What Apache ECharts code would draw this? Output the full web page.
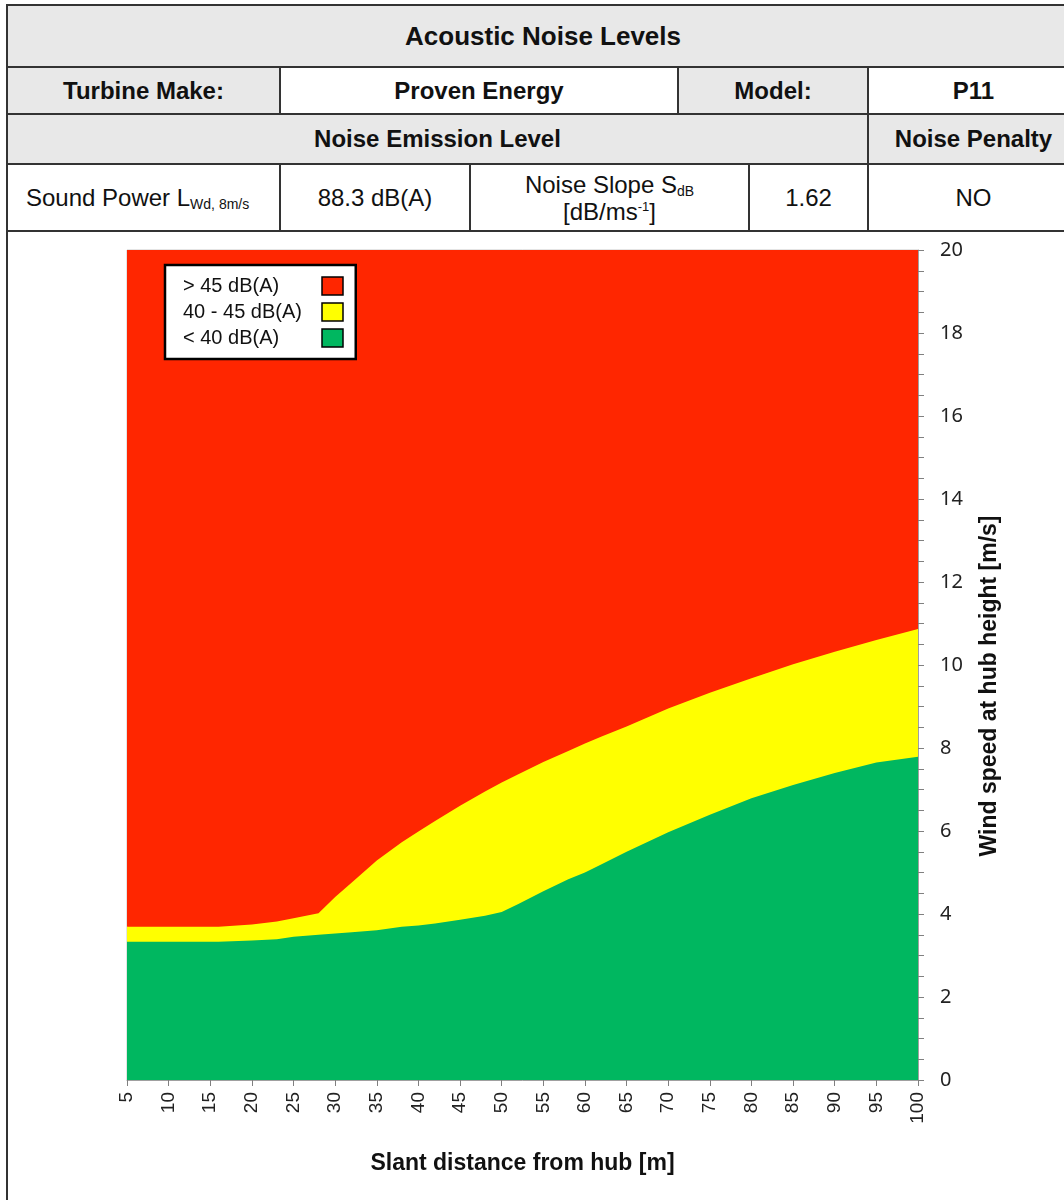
<!DOCTYPE html>
<html>
<head>
<meta charset="utf-8">
<title>Acoustic Noise Levels</title>
<script src="https://cdn.jsdelivr.net/npm/echarts@6/dist/echarts.min.js"></script>
<style>
  body { margin: 0; background: #fff; font-family: 'Liberation Sans', Arial, sans-serif; color: #111; }
  #chart { position: absolute; left: 0; top: 0; width: 1064px; height: 1200px; }
  .frame { position: absolute; left: 6px; top: 228px; width: 2px; height: 980px; background: #333; }
  table { position: absolute; left: 6px; top: 4px; width: 1072px; border-collapse: collapse; table-layout: fixed; background: #fff; z-index: 1; }
  td { border: 2px solid #333; text-align: center; vertical-align: middle; font-size: 24px; padding: 0; }
  td.g { background: #e8e8e8; font-weight: bold; }
  td.b { font-weight: bold; }
  td.first { text-align: left; padding-left: 18px; }
  .title { font-size: 26px; }
  sub { font-size: 14px; vertical-align: -3px; line-height: 0; }
  sup { font-size: 13px; vertical-align: 9px; line-height: 0; }
  .two { line-height: 27px; }
</style>
</head>
<body>
<table>
  <colgroup>
    <col style="width:273px"><col style="width:190px"><col style="width:208px">
    <col style="width:71px"><col style="width:119px"><col style="width:211px">
  </colgroup>
  <tr style="height:62px"><td class="g title" colspan="6">Acoustic Noise Levels</td></tr>
  <tr style="height:47px">
    <td class="g">Turbine Make:</td>
    <td class="b" colspan="2">Proven Energy</td>
    <td class="g" colspan="2">Model:</td>
    <td class="b">P11</td>
  </tr>
  <tr style="height:50px">
    <td class="g" colspan="5">Noise Emission Level</td>
    <td class="g">Noise Penalty</td>
  </tr>
  <tr style="height:67px">
    <td class="first">Sound Power L<sub>Wd, 8m/s</sub></td>
    <td>88.3 dB(A)</td>
    <td class="two" colspan="2">Noise Slope S<sub>dB</sub><br>[dB/ms<sup>-1</sup>]</td>
    <td>1.62</td>
    <td>NO</td>
  </tr>
</table>
<div class="frame"></div>
<div id="chart"></div>
<script>
// slant distance from hub [m]
const distances = [5, 10, 15, 16, 20, 23, 25, 28, 30, 32, 35, 38, 40, 42, 45, 48, 50, 52, 55, 58, 60, 62, 65, 70, 75, 80, 85, 90, 95, 100]
// wind speed [m/s] where the level reaches 45 dB(A)
const limit45 = [3.69, 3.69, 3.69, 3.69, 3.75, 3.82, 3.9, 4.02, 4.41, 4.76, 5.29, 5.73, 5.99, 6.24, 6.61, 6.95, 7.17, 7.37, 7.66, 7.93, 8.11, 8.28, 8.52, 8.95, 9.33, 9.68, 10.02, 10.32, 10.6, 10.87]
// wind speed [m/s] where the level reaches 40 dB(A)
const limit40 = [3.33, 3.33, 3.33, 3.33, 3.36, 3.39, 3.45, 3.5, 3.53, 3.56, 3.61, 3.69, 3.72, 3.77, 3.86, 3.96, 4.05, 4.24, 4.55, 4.84, 5.0, 5.2, 5.5, 5.97, 6.39, 6.79, 7.11, 7.4, 7.65, 7.79]
const bandNames = ['> 45 dB(A)', '40 - 45 dB(A)', '< 40 dB(A)']

const RED = '#ff2600'
const YELLOW = '#ffff00'
const GREEN = '#00b760'

const chart = echarts.init(document.getElementById('chart'))

function band(name, color, values, origin) {
  return {
    name: name,
    type: 'line',
    data: distances.map((d, i) => [d, values[i]]),
    symbol: 'none',
    silent: true,
    lineStyle: { width: 0 },
    itemStyle: { color: color },
    areaStyle: { color: color, opacity: 1, origin: origin }
  }
}

chart.setOption({
  animation: false,
  backgroundColor: 'transparent',
  grid: {
    left: 127,
    right: 146,
    top: 250,
    bottom: 120,
    show: true,
    backgroundColor: RED,
    borderColor: '#c8c8c8',
    borderWidth: 1
  },
  legend: {
    data: bandNames,
    orient: 'vertical',
    left: 165,
    top: 265,
    align: 'right',
    icon: 'rect',
    itemWidth: 21,
    itemHeight: 18,
    itemGap: 6,
    padding: [11, 12, 11, 18],
    backgroundColor: '#fff',
    borderColor: '#000',
    borderWidth: 2.5,
    selectedMode: false,
    itemStyle: { borderColor: '#000', borderWidth: 1.5 },
    formatter: name => '{t|' + name + '}',
    textStyle: {
      rich: {
        t: { width: 134, align: 'left', fontSize: 20, color: '#111', fontFamily: 'Liberation Sans' }
      }
    }
  },
  xAxis: {
    type: 'value',
    min: 5,
    max: 100,
    interval: 5,
    name: 'Slant distance from hub [m]',
    nameLocation: 'middle',
    nameGap: 72,
    nameTextStyle: { fontSize: 23, fontWeight: 'bold', color: '#111', fontFamily: 'Liberation Sans', verticalAlign: 'top' },
    axisLine: { show: true, onZero: false, lineStyle: { color: '#a0a0a0' } },
    axisTick: { show: true, length: 6, lineStyle: { color: '#808080' } },
    splitLine: { show: false },
    axisLabel: { rotate: 90, margin: 12, fontSize: 19, color: '#222', fontFamily: 'Liberation Sans' }
  },
  yAxis: {
    type: 'value',
    position: 'right',
    min: 0,
    max: 20,
    interval: 2,
    name: 'Wind speed at hub height [m/s]',
    nameLocation: 'middle',
    nameGap: 60,
    nameTextStyle: { fontSize: 23, fontWeight: 'bold', color: '#111', fontFamily: 'Liberation Sans', padding: [0, 42, 0, 0] },
    axisLine: { show: true, lineStyle: { color: '#a0a0a0' } },
    axisTick: { show: true, length: 6, lineStyle: { color: '#808080' } },
    minorTick: { show: true, splitNumber: 4, length: 6, lineStyle: { color: '#808080' } },
    splitLine: { show: false },
    axisLabel: { margin: 22, fontSize: 20, color: '#222', fontFamily: 'Noto Sans' }
  },
  series: [
    band(bandNames[0], RED, limit45, 'end'),
    band(bandNames[1], YELLOW, limit45, 'start'),
    band(bandNames[2], GREEN, limit40, 'start')
  ]
})
</script>
</body>
</html>
